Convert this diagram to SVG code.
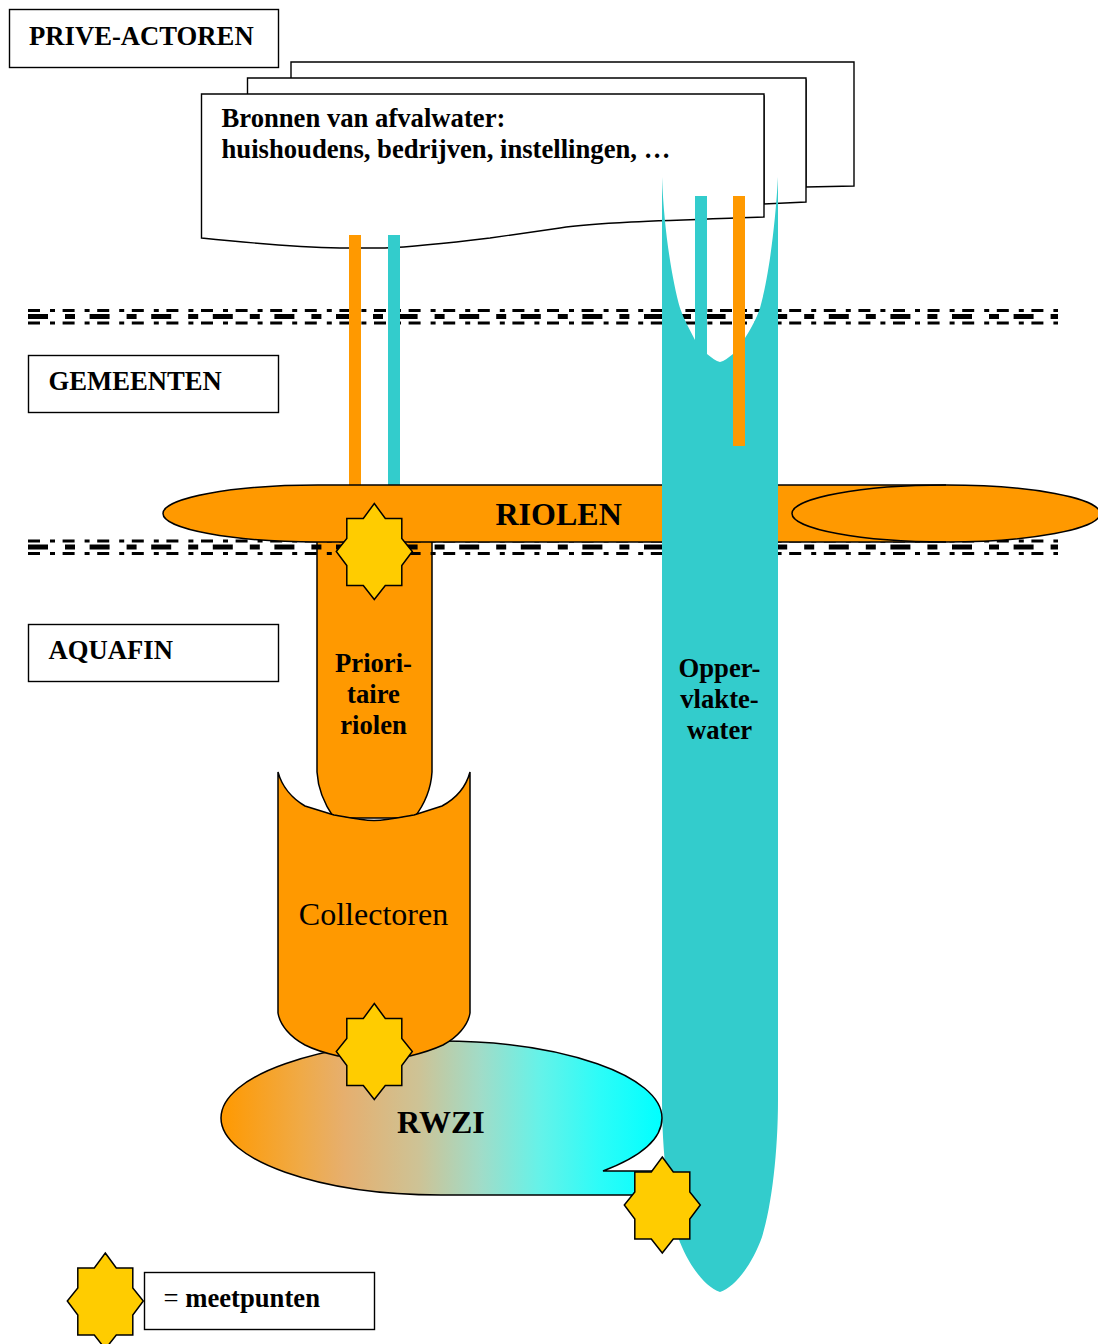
<svg xmlns="http://www.w3.org/2000/svg" width="1098" height="1344" viewBox="0 0 1098 1344">
<style>
text{font-family:"Liberation Serif","Times New Roman",serif;fill:#000}
.b{font-weight:bold;font-size:26.67px}
.big{font-weight:bold;font-size:32px}
.m{text-anchor:middle}
.box{fill:#fff;stroke:#000;stroke-width:1.4}
.o{fill:#f90;stroke:#000;stroke-width:1.5}
.t{fill:#3cc}
.bo{fill:#f90}
.thin{fill:none;stroke:#000;stroke-width:3;stroke-dasharray:12 10 5 7.600}
.thick{fill:none;stroke:#000;stroke-width:5;stroke-dasharray:20 17 10 14.600}
</style>
<defs>
<linearGradient id="g" gradientUnits="userSpaceOnUse" x1="221" y1="0" x2="662" y2="0">
<stop offset="0" stop-color="#f90"/>
<stop offset="0.18" stop-color="#f0aa46"/>
<stop offset="0.28" stop-color="#e6af6e"/>
<stop offset="0.45" stop-color="#cdc396"/>
<stop offset="0.59" stop-color="#a0dcc8"/>
<stop offset="0.72" stop-color="#66f2e8"/>
<stop offset="0.86" stop-color="#2cfcf8"/>
<stop offset="1" stop-color="#0ff"/>
</linearGradient>
<polygon id="star" points="0,-48 11,-33 27.500,-33 27.500,-13 38,0 27.500,14 27.500,34 11,34 0,48 -11,34 -27.500,34 -27.500,14 -38,0 -27.500,-13 -27.500,-33 -11,-33" fill="#fc0" stroke="#000" stroke-width="1.500"/>
<g id="dash">
<path class="thin" d="M28 0H1058"/><path class="thick" d="M28 6H1058"/><path class="thin" d="M28 12.500H1058"/>
</g>
</defs>
<g id="prive"><rect class="box" x="9.500" y="9.500" width="269" height="58"/><text class="b" x="29" y="45">PRIVE-ACTOREN</text></g>
<g id="bronnen">
<path class="box" d="M291 80V62H854V186L806 187V80Z"/>
<path class="box" d="M247.500 96V78H806V202L764 204V96Z"/>
<path class="box" d="M201.500 94H764V217C680 220 600 222 560 228L490 238C440 244 410 247 385 248L340 248C290 247 240 242 201.500 238Z"/>
<text class="b" x="221.500" y="126.500">Bronnen van afvalwater:</text>
<text class="b" x="221.500" y="157.500">huishoudens, bedrijven, instellingen, …</text>
</g>
<g id="gemeenten"><rect class="box" x="28.500" y="355.500" width="250" height="57"/><text class="b" x="48.500" y="390">GEMEENTEN</text></g>
<g id="aquafin"><rect class="box" x="28.500" y="624.500" width="250" height="57"/><text class="b" x="48.500" y="659">AQUAFIN</text></g>
<g id="prioritaire">
<path class="o" d="M317 530V772C318 790 325 805 334 818H414C424 805 431 790 432 772V530Z"/>
</g>
<g id="connectors">
<use href="#dash" x="0" y="310.500"/>
<use href="#dash" x="0" y="541"/>
<rect class="bo" x="349" y="235" width="12" height="255"/>
<rect class="t" x="388" y="235" width="12" height="255"/>
</g>
<g id="riolen">
<path class="o" d="M946 485H318C232 485 163 498 163 513.500C163 529 232 542 318 542H946C1031 542 1100 529 1100 513.500C1100 498 1031 485 946 485Z"/>
<path fill="none" stroke="#000" stroke-width="1.500" d="M946 485C861 485 792 498 792 513.500C792 529 861 542 946 542"/>
<text class="big" x="495.500" y="524.500">RIOLEN</text>
</g>
<g id="oppervlaktewater">
<path class="t" d="M662 177C664 230 672 280 680 308C684 320 690 330 695 340V196H707V354C712 358 716 361 720 362C724 361 728 358 733 354V196H745V338C750 330 756 320 760 308C768 280 775 230 778 177V1100C778 1150 772 1205 762 1237C752 1265 735 1287 720 1292C705 1287 688 1265 678 1237C668 1205 662 1150 662 1100Z"/>
<rect class="bo" x="733" y="196" width="12" height="250"/>
<text class="b m" x="719.500" y="677">Opper-</text>
<text class="b m" x="719.500" y="708">vlakte-</text>
<text class="b m" x="719.500" y="739">water</text>
</g>
<g id="prioritaire-label">
<text class="b m" x="373.500" y="672">Priori-</text>
<text class="b m" x="373.500" y="703">taire</text>
<text class="b m" x="373.500" y="734">riolen</text>
</g>
<g id="rwzi">
<path fill="url(#g)" stroke="#000" stroke-width="1.500" d="M441 1195C319 1195 221 1160 221 1118C221 1076 319 1041 441 1041C563 1041 662 1076 662 1118C662 1140 640 1157 603 1171H662V1195Z"/>
<text class="big" x="397" y="1133">RWZI</text>
</g>
<g id="collectoren">
<path class="o" d="M278 772C282 787 293 799 305 806L334 815C350 818 362 820.500 374 820.500C386 820.500 398 818 414 815L442 806C455 799 466 787 470 772V1013C468 1025 458 1037 443 1045C430 1051 418 1054 410 1056H338C325 1053 315 1050 305 1045C290 1037 280 1025 278 1013Z"/>
<text x="373.500" y="925" font-size="32" class="m">Collectoren</text>
</g>
<g id="meetpunt-1"><use href="#star" x="374.300" y="551.500"/></g>
<g id="meetpunt-2"><use href="#star" x="374.300" y="1051.500"/></g>
<g id="meetpunt-3"><use href="#star" x="662.300" y="1205"/></g>
<g id="legend-star"><use href="#star" x="105.300" y="1301"/></g>
<g id="legend"><rect class="box" x="144.500" y="1272.500" width="230" height="57"/><text class="b" x="163.500" y="1307"><tspan font-weight="normal">=</tspan> meetpunten</text></g>
</svg>
